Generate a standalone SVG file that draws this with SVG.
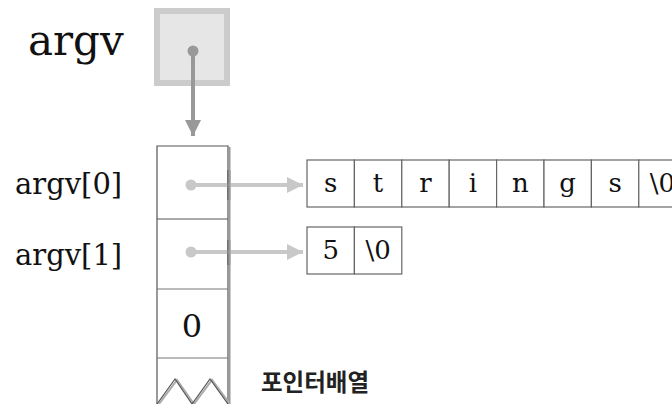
<svg xmlns="http://www.w3.org/2000/svg" width="672" height="404" viewBox="0 0 672 404">
<style>
.lbl{font-family:"DejaVu Serif","Liberation Serif",serif;fill:#111}
.cell{fill:#fff;stroke:#666;stroke-width:1.2}
.ct{font-family:"DejaVu Serif","Liberation Serif",serif;font-size:26px;fill:#111;text-anchor:middle}
.ko{font-family:"Noto Sans CJK KR","Noto Sans",sans-serif;font-weight:bold;font-size:23.5px;fill:#222}
</style>
<defs>
<marker id="ahd" viewBox="0 0 16 16" refX="16" refY="8" markerWidth="16" markerHeight="16" markerUnits="userSpaceOnUse" orient="auto"><path d="M0,0 L16,8 L0,16 Z" fill="#999"/></marker>
<marker id="ahl" viewBox="0 0 16 16" refX="16" refY="8" markerWidth="16" markerHeight="16" markerUnits="userSpaceOnUse" orient="auto"><path d="M0,0 L16,8 L0,16 Z" fill="#c8c8c8"/></marker>
</defs>

<g id="argv-label"><text class="lbl" x="28" y="55" font-size="42">argv</text></g>

<g id="argv-box">
<rect x="157" y="11" width="70" height="72" fill="#e6e6e6" stroke="#cccccc" stroke-width="6"/>
</g>

<g id="array">
<path d="M157,404 V146 H228 V404" fill="#fff" stroke="#555" stroke-width="1.2"/>
<line x1="229.5" y1="147" x2="229.5" y2="404" stroke="#999" stroke-width="2"/>
<line x1="157" y1="219" x2="228" y2="219" stroke="#555" stroke-width="1.2"/>
<line x1="157" y1="289" x2="228" y2="289" stroke="#777" stroke-width="1.2"/>
<line x1="157" y1="358" x2="228" y2="358" stroke="#777" stroke-width="1.2"/>
<path d="M159,404 L177,380 L194,404 L212,380 L230,404" fill="none" stroke="#aaa" stroke-width="2"/>
<path d="M157,404 L175,379 L192,404 L210,379 L228,404" fill="none" stroke="#555" stroke-width="1.2"/>
<text class="ct" x="192" y="337" style="font-size:32px">0</text>
</g>

<g id="row-labels">
<text class="lbl" x="15" y="194" font-size="29">argv[0]</text>
<text class="lbl" x="15" y="265" font-size="29">argv[1]</text>
</g>

<g id="connectors">
<circle cx="193" cy="51" r="5.5" fill="#999"/>
<line x1="193" y1="51" x2="193" y2="136" stroke="#999" stroke-width="4" marker-end="url(#ahd)"/>
<circle cx="191" cy="185" r="5.5" fill="#c8c8c8"/>
<line x1="191" y1="185" x2="303" y2="185" stroke="#c8c8c8" stroke-width="4" marker-end="url(#ahl)"/>
<circle cx="191" cy="252" r="5.5" fill="#c8c8c8"/>
<line x1="191" y1="252" x2="303" y2="252" stroke="#c8c8c8" stroke-width="4" marker-end="url(#ahl)"/>
</g>

<g id="array-border-over">
<line x1="228" y1="170" x2="228" y2="200" stroke="#555" stroke-width="1.2"/>
<line x1="229.5" y1="170" x2="229.5" y2="200" stroke="#999" stroke-width="2"/>
<line x1="228" y1="240" x2="228" y2="265" stroke="#555" stroke-width="1.2"/>
<line x1="229.5" y1="240" x2="229.5" y2="265" stroke="#999" stroke-width="2"/>
</g>

<g id="string1">
<rect class="cell" x="307" y="160" width="47.4" height="47"/>
<rect class="cell" x="354.4" y="160" width="47.4" height="47"/>
<rect class="cell" x="401.8" y="160" width="47.4" height="47"/>
<rect class="cell" x="449.2" y="160" width="47.4" height="47"/>
<rect class="cell" x="496.6" y="160" width="47.4" height="47"/>
<rect class="cell" x="544" y="160" width="47.4" height="47"/>
<rect class="cell" x="591.4" y="160" width="47.4" height="47"/>
<rect class="cell" x="638.8" y="160" width="47.4" height="47"/>
<text class="ct" x="330.7" y="192">s</text>
<text class="ct" x="378.1" y="192">t</text>
<text class="ct" x="425.5" y="192">r</text>
<text class="ct" x="472.9" y="192">i</text>
<text class="ct" x="520.3" y="192">n</text>
<text class="ct" x="567.7" y="192">g</text>
<text class="ct" x="615.1" y="192">s</text>
<text class="ct" x="662.5" y="192">\0</text>
</g>

<g id="string2">
<rect class="cell" x="307" y="227" width="47.4" height="47"/>
<rect class="cell" x="354.4" y="227" width="47.4" height="47"/>
<text class="ct" x="330.7" y="259">5</text>
<text class="ct" x="378.1" y="259">\0</text>
</g>

<g id="caption"><text class="ko" x="261" y="391">포인터배열</text></g>
</svg>
